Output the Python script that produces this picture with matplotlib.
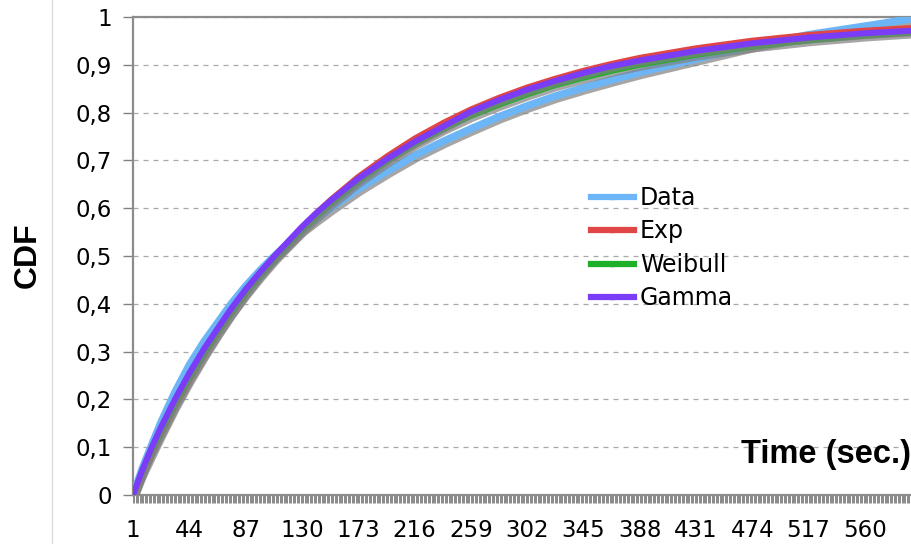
import matplotlib
matplotlib.use("Agg")
import matplotlib.pyplot as plt
import matplotlib.patheffects as pe
from matplotlib.lines import Line2D

cats = [1, 8, 15, 22, 33, 44, 55, 66, 76, 87, 98, 109, 120, 130, 141, 152,
        173, 195, 216, 238, 259, 281, 302, 323, 345, 366, 388, 431, 474, 517,
        560, 600]

data = [0, 0.055, 0.103, 0.150, 0.215, 0.272, 0.320, 0.362, 0.400, 0.437,
        0.470, 0.500, 0.528, 0.555, 0.578, 0.600, 0.640, 0.677, 0.710, 0.740,
        0.766, 0.792, 0.814, 0.834, 0.852, 0.868, 0.884, 0.912, 0.940, 0.963,
        0.981, 0.998]
exp_fit = [0, 0.044, 0.085, 0.125, 0.185, 0.240, 0.291, 0.339, 0.380, 0.422,
           0.461, 0.497, 0.531, 0.560, 0.590, 0.618, 0.666, 0.709, 0.746,
           0.779, 0.807, 0.832, 0.853, 0.871, 0.888, 0.902, 0.915, 0.935,
           0.951, 0.963, 0.972, 0.978]
weibull = [0, 0.048, 0.090, 0.128, 0.188, 0.243, 0.293, 0.340, 0.380, 0.420,
           0.457, 0.492, 0.524, 0.553, 0.581, 0.608, 0.655, 0.697, 0.733,
           0.765, 0.792, 0.816, 0.837, 0.856, 0.872, 0.886, 0.899, 0.920,
           0.937, 0.950, 0.960, 0.967]
gamma = [0, 0.052, 0.098, 0.140, 0.200, 0.255, 0.305, 0.350, 0.390, 0.430,
         0.466, 0.500, 0.532, 0.561, 0.590, 0.616, 0.662, 0.703, 0.739,
         0.771, 0.802, 0.827, 0.848, 0.866, 0.883, 0.897, 0.909, 0.929,
         0.945, 0.957, 0.966, 0.972]

labels = ["Data", "Exp", "Weibull", "Gamma"]
colors = ["#6cb6f7", "#e04646", "#1fb02a", "#7a3cf7"]
widths = [5.4, 4.0, 3.6, 4.3]

xtick_vals = list(range(1, 561, 43))
ytick_vals = [0, 0.1, 0.2, 0.3, 0.4, 0.5, 0.6, 0.7, 0.8, 0.9, 1]
ytick_labels = ["0", "0,1", "0,2", "0,3", "0,4", "0,5", "0,6", "0,7", "0,8", "0,9", "1"]

fig = plt.figure(figsize=(9.12, 5.44), dpi=100)
ax = fig.add_axes([133 / 912, 49 / 544, (912 - 133) / 912, 478 / 544])

shadow = [pe.SimpleLineShadow(offset=(1.5, -2), shadow_color="#808080", alpha=0.7), pe.Normal()]
for y, lab, c, w in zip([data, exp_fit, weibull, gamma], labels, colors, widths):
    ax.plot(cats, y, color=c, lw=w, label=lab, solid_capstyle="butt",
            solid_joinstyle="round", path_effects=shadow, zorder=3)

ax.set_xlim(1, 596)
ax.set_ylim(0, 1)

ax.set_yticks(ytick_vals)
ax.set_yticklabels(ytick_labels)
ax.set_xticks(xtick_vals)
ax.set_xticklabels([str(v) for v in xtick_vals])
ax.set_xticks(range(1, 597), minor=True)
ax.tick_params(axis="y", length=7, width=1, color="#808080", pad=8, labelsize=16.5)
ax.tick_params(axis="x", which="both", length=6, width=0.5, color="#5a5a5a",
               pad=11, labelsize=16.5)

ax.grid(axis="y", color="#a8a8a8", linestyle=(0, (4, 4)), lw=0.9)
ax.set_axisbelow(True)

for s in ["left", "bottom", "top"]:
    ax.spines[s].set_color("#8c8c8c")
    ax.spines[s].set_linewidth(1.6)
ax.spines["right"].set_visible(False)

handles = [Line2D([0], [0], color=c, lw=4.5, marker="s", markersize=3,
                  markerfacecolor=c, markeredgecolor=c) for c in colors]
ax.legend(handles, labels, loc="upper left",
          bbox_to_anchor=((591 - 133) / 779, 1 - (186 - 17) / 478),
          frameon=False, fontsize=17, handlelength=1.8, handletextpad=0.28,
          labelspacing=0.4, borderaxespad=0, borderpad=0)

fig.text(28 / 912, 1 - 255 / 544, "CDF", rotation=90, ha="center", va="center",
         fontsize=23, fontweight="bold", family="Liberation Sans")
fig.text(911 / 912, 1 - 455 / 544, "Time (sec.)", ha="right", va="center",
         fontsize=23.5, fontweight="bold", family="Liberation Sans")

fig.add_artist(Line2D([52 / 912, 52 / 912], [0, 1], color="#dcdcdc", lw=1))

fig.savefig("out.png", dpi=100)
